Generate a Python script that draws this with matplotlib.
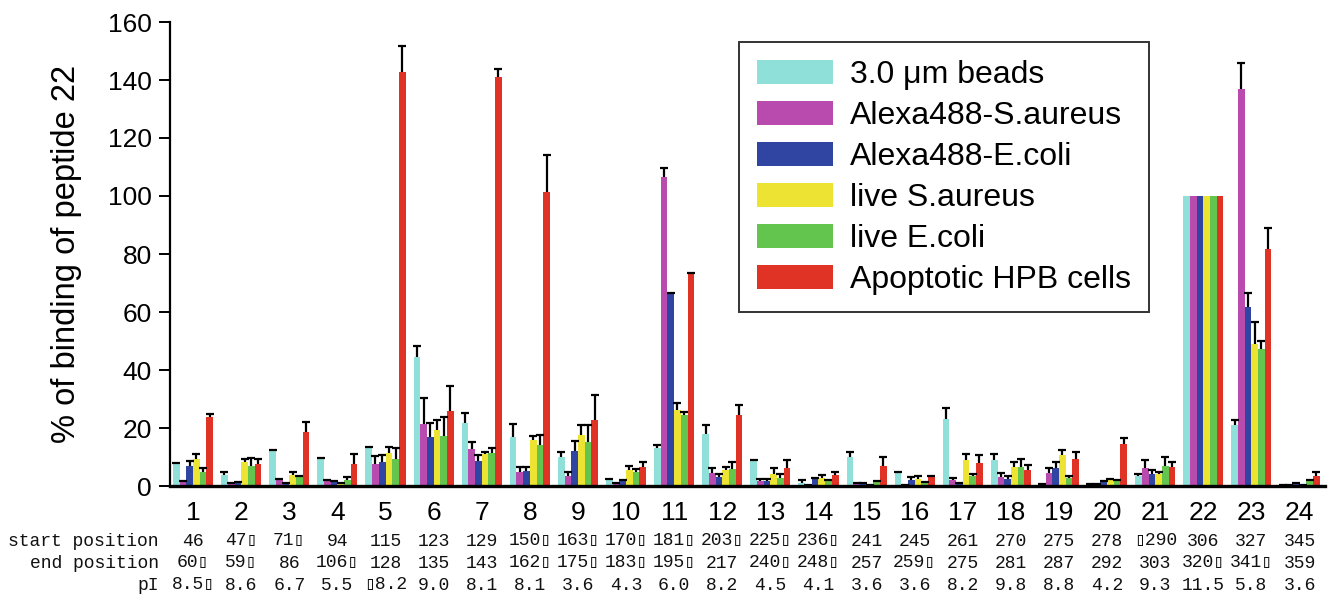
import numpy as np
import matplotlib
matplotlib.use("Agg")
import matplotlib.pyplot as plt
from matplotlib.patches import Patch
from matplotlib.transforms import blended_transform_factory

plt.rcParams['font.family'] = ['Liberation Sans', 'DejaVu Sans']

# ---------------- data ----------------
peptides = [str(i) for i in range(1, 25)]
series_names = ["3.0 \u03bcm beads", "Alexa488-S.aureus", "Alexa488-E.coli",
                "live S.aureus", "live E.coli", "Apoptotic HPB cells"]
series_colors = ["#90E0DA", "#B94AAE", "#2F45A1", "#EDE333", "#63C54D", "#E03225"]

beads = [7.7, 3.8, 12.3, 9.5, 13.2, 44.5, 21.8, 16.8, 10.0, 2.3, 13.2, 17.8,
         9.0, 1.1, 9.9, 4.6, 23.0, 8.9, 0.8, 0.7, 3.6, 100, 20.9, 0.2]
beads_err = [0.3, 1.0, 0.2, 0.1, 0.2, 3.7, 3.4, 4.5, 1.7, 0.1, 0.9, 3.3,
             0.1, 0.9, 1.8, 0.2, 4.0, 2.0, 0.0, 0.0, 0.5, np.nan, 2.0, 0.0]

alexa_sa = [1.4, 0.8, 2.2, 1.8, 7.5, 21.3, 12.9, 4.8, 3.6, 0.8, 106.7, 4.5,
            1.7, 0.3, 1.0, 0.3, 2.1, 3.2, 4.4, 0.6, 6.3, 100, 136.8, 0.3]
alexa_sa_err = [0.3, 0.3, 0.3, 0.3, 2.8, 9.2, 2.4, 1.9, 1.3, 0.1, 3.1, 1.6,
                0.6, 0.1, 0.2, 0.1, 0.7, 1.3, 1.8, 0.1, 2.7, np.nan, 9.0, 0.1]

alexa_ec = [6.8, 1.1, 0.8, 1.4, 8.2, 16.9, 8.6, 5.1, 12.0, 1.7, 66.1, 3.0,
            1.7, 2.8, 0.8, 2.1, 0.9, 2.5, 6.3, 1.4, 4.3, 100, 61.8, 0.9]
alexa_ec_err = [1.7, 0.3, 0.2, 0.4, 2.6, 4.9, 2.1, 1.6, 3.5, 0.3, 0.3, 1.0,
                0.6, 0.1, 0.1, 0.9, 0.3, 0.8, 2.0, 0.2, 1.2, np.nan, 4.6, 0.3]

live_sa = [9.3, 8.4, 3.7, 0.8, 11.3, 19.2, 10.9, 15.7, 17.7, 5.5, 26.1, 5.4,
           4.3, 2.9, 0.2, 2.5, 9.0, 6.4, 10.6, 2.2, 4.0, 100, 49.0, 0.3]
live_sa_err = [1.8, 1.0, 1.1, 0.4, 2.1, 3.7, 0.8, 1.4, 3.2, 1.4, 2.6, 1.3,
               1.9, 0.8, 0.1, 0.9, 2.0, 1.9, 1.7, 0.3, 0.9, np.nan, 7.7, 0.1]

live_ec = [4.8, 6.8, 3.1, 2.0, 9.4, 17.4, 11.4, 14.0, 15.1, 4.9, 24.4, 5.9,
           2.9, 1.7, 1.5, 1.1, 3.4, 6.4, 2.6, 2.0, 7.0, 100, 47.1, 1.7]
live_ec_err = [1.3, 2.8, 0.5, 1.0, 3.6, 6.4, 1.6, 3.7, 5.9, 1.1, 1.1, 2.5,
               1.1, 0.4, 0.2, 0.2, 0.9, 2.8, 0.8, 0.2, 3.0, np.nan, 2.8, 0.4]

hpb = [23.9, 7.6, 18.6, 7.6, 142.9, 25.7, 141.1, 101.3, 22.8, 6.6, 73.1, 24.5,
       6.3, 3.7, 6.8, 3.2, 7.8, 5.5, 9.2, 14.5, 6.7, 100, 81.7, 3.4]
hpb_err = [1.1, 1.8, 3.6, 3.4, 8.8, 8.9, 2.6, 12.8, 8.5, 1.8, 0.5, 3.5,
           2.7, 1.2, 3.1, 0.2, 3.0, 1.7, 2.5, 2.1, 1.7, np.nan, 7.4, 1.5]

start_pos = ["46", "47\u25af", "71\u25af", "94", "115", "123", "129", "150\u25af",
             "163\u25af", "170\u25af", "181\u25af", "203\u25af", "225\u25af", "236\u25af",
             "241", "245", "261", "270", "275", "278", "\u25af290", "306", "327", "345"]
end_pos = ["60\u25af", "59\u25af", "86", "106\u25af", "128", "135", "143", "162\u25af",
           "175\u25af", "183\u25af", "195\u25af", "217", "240\u25af", "248\u25af", "257",
           "259\u25af", "275", "281", "287", "292", "303", "320\u25af", "341\u25af", "359"]
pI = ["8.5\u25af", "8.6", "6.7", "5.5", "\u25af8.2", "9.0", "8.1", "8.1", "3.6", "4.3",
      "6.0", "8.2", "4.5", "4.1", "3.6", "3.6", "8.2", "9.8", "8.8", "4.2", "9.3",
      "11.5", "5.8", "3.6"]
row_labels = ["start position", "end position", "pI"]

values = [beads, alexa_sa, alexa_ec, live_sa, live_ec, hpb]
errors = [beads_err, alexa_sa_err, alexa_ec_err, live_sa_err, live_ec_err, hpb_err]

# ---------------- figure ----------------
W, H = 1334, 594
fig = plt.figure(figsize=(W / 100, H / 100), dpi=100)
ax = fig.add_axes([170 / W, 108 / H, 1155 / W, 464 / H])

x = np.arange(1, len(peptides) + 1)
bw = 0.139
for i, (vals, errs, col) in enumerate(zip(values, errors, series_colors)):
    pos = x + (i - 2.5) * bw
    errs = np.array(errs, dtype=float)
    ax.bar(pos, vals, width=bw, color=col, edgecolor='none', zorder=2)
    eb = ax.errorbar(pos, vals, yerr=[np.zeros_like(errs), errs], fmt='none',
                     ecolor='black', elinewidth=1.6, capsize=2.6, capthick=1.6, zorder=3)
    # only the upper cap is drawn (one-sided error bars)
    caps = eb.lines[1]
    if len(caps) >= 2:
        caps[0].set_visible(False)

ax.set_xlim(0.52, 24.53)
ax.set_ylim(0, 160)
ax.set_yticks(np.arange(0, 161, 20))
ax.set_xticks(x)
ax.set_xticklabels(peptides)
ax.tick_params(axis='x', length=0, pad=10.5, labelsize=19)
ax.tick_params(axis='y', length=8, width=1.4, pad=5, labelsize=19, direction='out')
for s in ['top', 'right']:
    ax.spines[s].set_visible(False)
ax.spines['left'].set_linewidth(1.6)
ax.spines['bottom'].set_linewidth(2.4)
ax.set_ylabel("% of binding of peptide 22", fontsize=23.5, labelpad=19)

handles = [Patch(facecolor=c, edgecolor='none') for c in series_colors]
leg = fig.legend(handles, series_names, loc='upper left',
                 bbox_to_anchor=(739 / W, 1 - 42 / H), frameon=True, fancybox=False,
                 edgecolor='black', fontsize=23, handlelength=2.38, handleheight=0.78,
                 handletextpad=0.55, labelspacing=0.34, borderpad=0.55, borderaxespad=0)
leg.get_frame().set_linewidth(1.4)

# ---------------- table below ----------------
mono = ['Liberation Mono', 'DejaVu Sans Mono', 'DejaVu Sans']
trans = blended_transform_factory(ax.transData, fig.transFigure)
row_y = [1 - 541 / H, 1 - 563 / H, 1 - 585 / H]
for label, row, yy in zip(row_labels, [start_pos, end_pos, pI], row_y):
    fig.text(159 / W, yy, label, ha='right', va='center', family=mono, fontsize=13,
             color='#111111')
    for xi, s in zip(x, row):
        ax.text(xi, yy, s, transform=trans, ha='center', va='center',
                family=mono, fontsize=13, color='#111111', clip_on=False)

fig.savefig("out.png", dpi=100)
